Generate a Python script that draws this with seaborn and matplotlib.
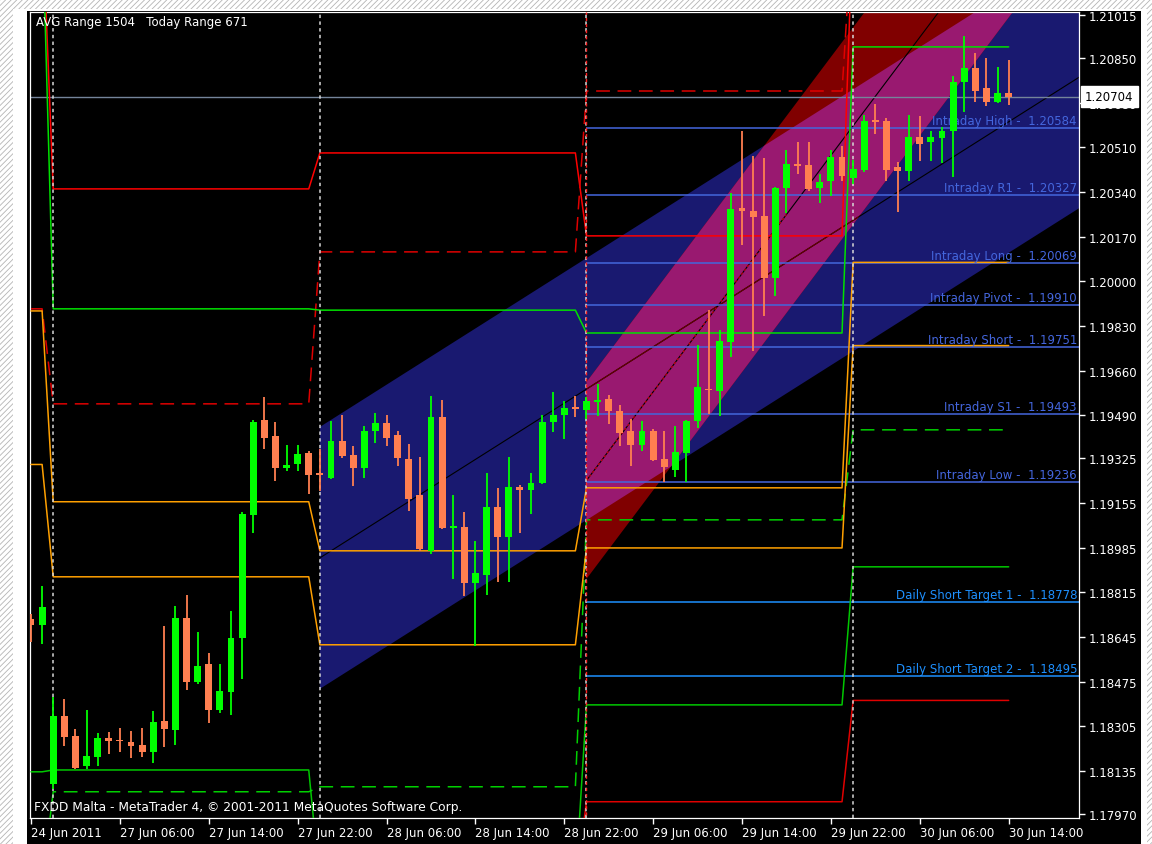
import numpy as np
import seaborn as sns
import matplotlib
matplotlib.use("Agg")
import matplotlib.pyplot as plt
from matplotlib.patches import Rectangle, Polygon
from matplotlib.transforms import blended_transform_factory

# ---- H1 candles, bar 0 = first bar drawn (24 Jun close), bar 88 = 30 Jun 14:00
opens = [1.18714, 1.18691, 1.18085, 1.18344, 1.18268, 1.18154, 1.18188, 1.18260, 1.18253, 1.18245,
         1.18234, 1.18207, 1.18325, 1.18291, 1.18718, 1.18474, 1.18542, 1.18367, 1.18436, 1.18641,
         1.19110, 1.19472, 1.19411, 1.19290, 1.19305, 1.19347, 1.19270, 1.19251, 1.19392, 1.19339,
         1.19290, 1.19430, 1.19461, 1.19415, 1.19324, 1.19186, 1.18973, 1.19483, 1.19060, 1.19064,
         1.18851, 1.18881, 1.19140, 1.19026, 1.19217, 1.19205, 1.19232, 1.19464, 1.19491, 1.19522,
         1.19510, 1.19541, 1.19552, 1.19506, 1.19430, 1.19377, 1.19430, 1.19324, 1.19282, 1.19347,
         1.19468, 1.19590, 1.19583, 1.19769, 1.20280, 1.20269, 1.20249, 1.20013, 1.20356, 1.20448,
         1.20444, 1.20356, 1.20383, 1.20474, 1.20394, 1.20425, 1.20615, 1.20611, 1.20436, 1.20421,
         1.20550, 1.20531, 1.20546, 1.20573, 1.20760, 1.20813, 1.20737, 1.20683, 1.20718]
highs = [1.18733, 1.18840, 1.18417, 1.18409, 1.18295, 1.18367, 1.18279, 1.18283, 1.18298, 1.18287,
         1.18298, 1.18363, 1.18687, 1.18763, 1.18805, 1.18664, 1.18584, 1.18542, 1.18744, 1.19121,
         1.19472, 1.19560, 1.19464, 1.19377, 1.19377, 1.19355, 1.19362, 1.19468, 1.19491, 1.19373,
         1.19449, 1.19499, 1.19491, 1.19430, 1.19381, 1.19331, 1.19563, 1.19548, 1.19186, 1.19121,
         1.19011, 1.19270, 1.19213, 1.19331, 1.19225, 1.19270, 1.19491, 1.19579, 1.19545, 1.19563,
         1.19560, 1.19609, 1.19567, 1.19529, 1.19476, 1.19468, 1.19438, 1.19430, 1.19449, 1.19472,
         1.19758, 1.19891, 1.19815, 1.20337, 1.20573, 1.20478, 1.20470, 1.20360, 1.20501, 1.20531,
         1.20531, 1.20409, 1.20501, 1.20516, 1.20463, 1.20634, 1.20676, 1.20623, 1.20455, 1.20634,
         1.20630, 1.20573, 1.20588, 1.20783, 1.20935, 1.20870, 1.20851, 1.20817, 1.20844]
lows = [1.18626, 1.18619, 1.18066, 1.18230, 1.18142, 1.18142, 1.18154, 1.18200, 1.18207, 1.18184,
        1.18188, 1.18165, 1.18226, 1.18234, 1.18444, 1.18466, 1.18318, 1.18356, 1.18348, 1.18485,
        1.19041, 1.19362, 1.19240, 1.19278, 1.19278, 1.19190, 1.19202, 1.19245, 1.19327, 1.19221,
        1.19251, 1.19385, 1.19373, 1.19297, 1.19125, 1.18973, 1.18961, 1.19056, 1.18866, 1.18801,
        1.18611, 1.18805, 1.18855, 1.18855, 1.19041, 1.19114, 1.19228, 1.19426, 1.19400, 1.19483,
        1.19476, 1.19487, 1.19457, 1.19373, 1.19297, 1.19354, 1.19316, 1.19236, 1.19255, 1.19236,
        1.19442, 1.19495, 1.19487, 1.19712, 1.20139, 1.19735, 1.19868, 1.19944, 1.20261, 1.20409,
        1.20345, 1.20299, 1.20326, 1.20383, 1.20372, 1.20417, 1.20562, 1.20383, 1.20265, 1.20383,
        1.20459, 1.20459, 1.20451, 1.20398, 1.20645, 1.20683, 1.20668, 1.20680, 1.20672]
closes = [1.18691, 1.18760, 1.18344, 1.18264, 1.18146, 1.18192, 1.18260, 1.18249, 1.18249, 1.18230,
          1.18207, 1.18321, 1.18295, 1.18718, 1.18474, 1.18535, 1.18367, 1.18440, 1.18641, 1.19114,
          1.19464, 1.19404, 1.19290, 1.19301, 1.19343, 1.19263, 1.19263, 1.19392, 1.19335, 1.19290,
          1.19430, 1.19461, 1.19404, 1.19327, 1.19171, 1.18980, 1.19483, 1.19060, 1.19068, 1.18851,
          1.18889, 1.19140, 1.19026, 1.19217, 1.19205, 1.19232, 1.19464, 1.19491, 1.19518, 1.19514,
          1.19545, 1.19548, 1.19506, 1.19423, 1.19377, 1.19430, 1.19320, 1.19293, 1.19350, 1.19468,
          1.19598, 1.19586, 1.19773, 1.20276, 1.20269, 1.20245, 1.20013, 1.20356, 1.20448, 1.20440,
          1.20352, 1.20379, 1.20474, 1.20402, 1.20429, 1.20611, 1.20608, 1.20425, 1.20421, 1.20550,
          1.20524, 1.20550, 1.20573, 1.20760, 1.20813, 1.20725, 1.20683, 1.20718, 1.20704]

current_price = 1.20704

# ---- daily indicator levels (one value per day: 24 Jun tail, 27, 28, 29, 30 Jun)
day_len = [2, 24, 24, 24, 15]
day_starts = [2, 26, 50, 74]
OFF_HI, OFF_LO = 1.2140, 1.1770   # level sits outside the visible range
red_a = [OFF_HI, 1.20352, 1.20489, 1.20173, OFF_HI]
red_b = [OFF_LO, OFF_LO, OFF_LO, 1.18017, 1.18403]
red_dash = [1.19895, 1.19533, 1.20112, 1.20725, OFF_HI]
green_a = [OFF_HI, 1.19895, 1.19890, 1.19803, 1.20893]
green_b = [1.18131, 1.18138, OFF_LO, 1.18386, 1.18912]
green_dash = [OFF_LO, 1.18055, 1.18074, 1.19091, 1.19434]
orange_a = [1.19887, 1.19160, 1.18973, 1.19213, 1.20072]
orange_b = [1.19302, 1.18874, 1.18615, 1.18984, 1.19755]

# ---- horizontal levels for today
intraday_names = ["Intraday High", "Intraday R1", "Intraday Long", "Intraday Pivot",
                  "Intraday Short", "Intraday S1", "Intraday Low"]
intraday_vals = [1.20584, 1.20327, 1.20069, 1.19910, 1.19751, 1.19493, 1.19236]
daily_names = ["Daily Short Target 1", "Daily Short Target 2"]
daily_vals = [1.18778, 1.18495]

# ---- channels: start bar, centre-line price at start, slope per bar, half width
blue_chan = (26, 1.18946, 0.000268, 0.00499)
red_chan = (50, 1.19241, 0.000563, 0.00375)

# ---- axis ticks
ytick_vals = [1.21015, 1.20850, 1.20680, 1.20510, 1.20340, 1.20170, 1.20000, 1.19830, 1.19660,
              1.19490, 1.19325, 1.19155, 1.18985, 1.18815, 1.18645, 1.18475, 1.18305, 1.18135, 1.17970]
xtick_bars = [0, 8, 16, 24, 32, 40, 48, 56, 64, 72, 80, 88]
xtick_labels = ["24 Jun 2011", "27 Jun 06:00", "27 Jun 14:00", "27 Jun 22:00", "28 Jun 06:00",
                "28 Jun 14:00", "28 Jun 22:00", "29 Jun 06:00", "29 Jun 14:00", "29 Jun 22:00",
                "30 Jun 06:00", "30 Jun 14:00"]

BULL, BEAR = "#00ff00", "#ff7f50"
XMIN, XMAX = -0.09, 94.33
YMIN, YMAX = 1.17955, 1.21026
FS = 8.5

sns.set_theme(style="dark", rc={"axes.facecolor": "black", "figure.facecolor": "white",
                                "hatch.linewidth": 0.6})
plt.rcParams["font.family"] = ["DejaVu Sans"]

W, H = 1152, 845
fig = plt.figure(figsize=(W / 100, H / 100), dpi=100)


def px_rect(x0, y0, x1, y1, **kw):
    """rectangle given in pixel coords (top-left origin), in figure space"""
    r = Rectangle((x0 / W, 1 - y1 / H), (x1 - x0) / W, (y1 - y0) / H,
                  transform=fig.transFigure, **kw)
    fig.add_artist(r)
    return r


px_rect(0, 0, W, H, facecolor="white", edgecolor="#b4b4b4", hatch="//////", lw=0, zorder=-3)
px_rect(13, 10, 1147, H, facecolor="white", lw=0, zorder=-2)
px_rect(27, 12, 1141, H, facecolor="black", lw=0, zorder=-1)

ax = fig.add_axes([30 / W, 1 - 819 / H, 1049 / W, 806 / H])
ax.set_facecolor("black")
ax.grid(False)


def chan_poly(chan):
    start, mid, slope, hw = chan
    x = np.array([start, XMAX])
    m = mid + slope * (x - start)
    return np.column_stack([np.r_[x, x[::-1]], np.r_[m + hw, (m - hw)[::-1]]])


def chan_mid(chan):
    x = np.array([chan[0], XMAX])
    return x, chan[1] + chan[2] * (x - chan[0])


# the two channels mix where they overlap (blue + maroon -> magenta)
blue_patch = Polygon(chan_poly(blue_chan), closed=True, fc="#191970", ec="none", zorder=0.2)
red_patch = Polygon(chan_poly(red_chan), closed=True, fc="#800000", ec="none", zorder=0.3)
ax.add_patch(blue_patch)
ax.add_patch(red_patch)
mix_patch = Polygon(chan_poly(red_chan), closed=True, fc="#991970", ec="none", zorder=0.4)
ax.add_patch(mix_patch)
mix_patch.set_clip_path(blue_patch)

bx, by = chan_mid(blue_chan)
ax.plot(bx, by, color="black", lw=0.8, zorder=0.5)
mid_in_red, = ax.plot(bx, by, color="#6a0000", lw=0.8, zorder=0.55)
mid_in_red.set_clip_path(red_patch)

rx, ry = chan_mid(red_chan)
ax.plot(rx, ry, color="black", lw=0.8, zorder=0.6)
rx2 = np.array([red_chan[0], 68])
ax.plot(rx2, red_chan[1] + red_chan[2] * (rx2 - red_chan[0]), color="#e00000",
        lw=0.7, linestyle=(0, (2.5, 2.5)), zorder=0.65)

# current price line
ax.axhline(current_price, color="#74849a", lw=1.0, zorder=1)

# levels
for v in intraday_vals:
    ax.hlines(v, 50, XMAX, color="#4466dd", lw=1.1, zorder=1.5)
for v in daily_vals:
    ax.hlines(v, 50, XMAX, color="#1e90ff", lw=1.1, zorder=1.5)

# stepped daily indicator lines
bars = np.arange(len(opens))
series = [(red_a, "#ff0000", "-"), (red_b, "#e00000", "-"), (red_dash, "#e00000", (0, (9, 5))),
          (green_a, "#00e000", "-"), (green_b, "#00c800", "-"), (green_dash, "#00d000", (0, (9, 5))),
          (orange_a, "#ffa000", "-"), (orange_b, "#ffa000", "-")]
for vals, col, ls in series:
    y = np.repeat(vals, day_len)
    sns.lineplot(x=bars, y=y, ax=ax, color=col, lw=1.1, linestyle=ls, zorder=3, legend=False)

# day separators
for d in day_starts:
    ax.axvline(d, color="#d8d8d8", lw=1.1, linestyle=(0, (2.2, 2.2)), zorder=4)
ax.axvline(50, color="#ff2020", lw=1.0, linestyle=(2.2, (2.2, 2.2)), zorder=4)

# candles
o, h, l, c = map(np.array, (opens, highs, lows, closes))
cols = np.where(c >= o, BULL, BEAR)
ax.vlines(bars, l, h, colors=cols, lw=1.3, zorder=5)
body_h = np.abs(c - o)
body_lo = np.minimum(o, c) - np.where(body_h < 0.00004, (0.00004 - body_h) / 2, 0)
ax.bar(bars, np.maximum(body_h, 0.00004), bottom=body_lo, width=0.62, color=cols, lw=0, zorder=6)

# level labels
tr = blended_transform_factory(ax.transAxes, ax.transData)
for name, v in zip(intraday_names, intraday_vals):
    ax.text(1 - 2 / 1049, v + 0.00004, f"{name} -  {v:.5f}", transform=tr, ha="right",
            va="bottom", color="#4466dd", fontsize=FS, zorder=4.5)
for name, v in zip(daily_names, daily_vals):
    ax.text(1 - 2 / 1049, v + 0.00004, f"{name} -  {v:.5f}", transform=tr, ha="right",
            va="bottom", color="#1e90ff", fontsize=FS, zorder=4.5)

ax.text(6 / 1049, 1 - 3 / 806, "AVG Range 1504   Today Range 671", transform=ax.transAxes,
        ha="left", va="top", color="white", fontsize=FS, zorder=10)
ax.text(4 / 1049, 11 / 806, "FXDD Malta - MetaTrader 4, \u00a9 2001-2011 MetaQuotes Software Corp.",
        transform=ax.transAxes, ha="left", va="center", color="white", fontsize=8.8, zorder=10)

ax.text(1 + 6 / 1049, current_price, f"{current_price:.5f}", transform=tr, ha="left",
        va="center", color="black", fontsize=FS, zorder=20, clip_on=False,
        bbox=dict(boxstyle="square,pad=0.35", fc="white", ec="white"))

ax.set_xlim(XMIN, XMAX)
ax.set_ylim(YMIN, YMAX)
ax.set_xlabel("")
ax.set_ylabel("")
ax.yaxis.tick_right()
ax.set_yticks(ytick_vals)
ax.set_yticklabels([f"{v:.5f}" for v in ytick_vals])
ax.set_xticks(xtick_bars)
ax.set_xticklabels(xtick_labels)
for lbl in ax.get_xticklabels():
    lbl.set_horizontalalignment("left")
ax.tick_params(axis="y", which="both", right=True, left=False, length=4, width=1,
               colors="white", labelsize=FS, pad=3)
ax.tick_params(axis="x", bottom=True, length=4, width=1, colors="white", labelsize=FS, pad=2)
for s in ax.spines.values():
    s.set_visible(True)
    s.set_color("white")
    s.set_linewidth(0.9)

fig.savefig("out.png", dpi=100)
